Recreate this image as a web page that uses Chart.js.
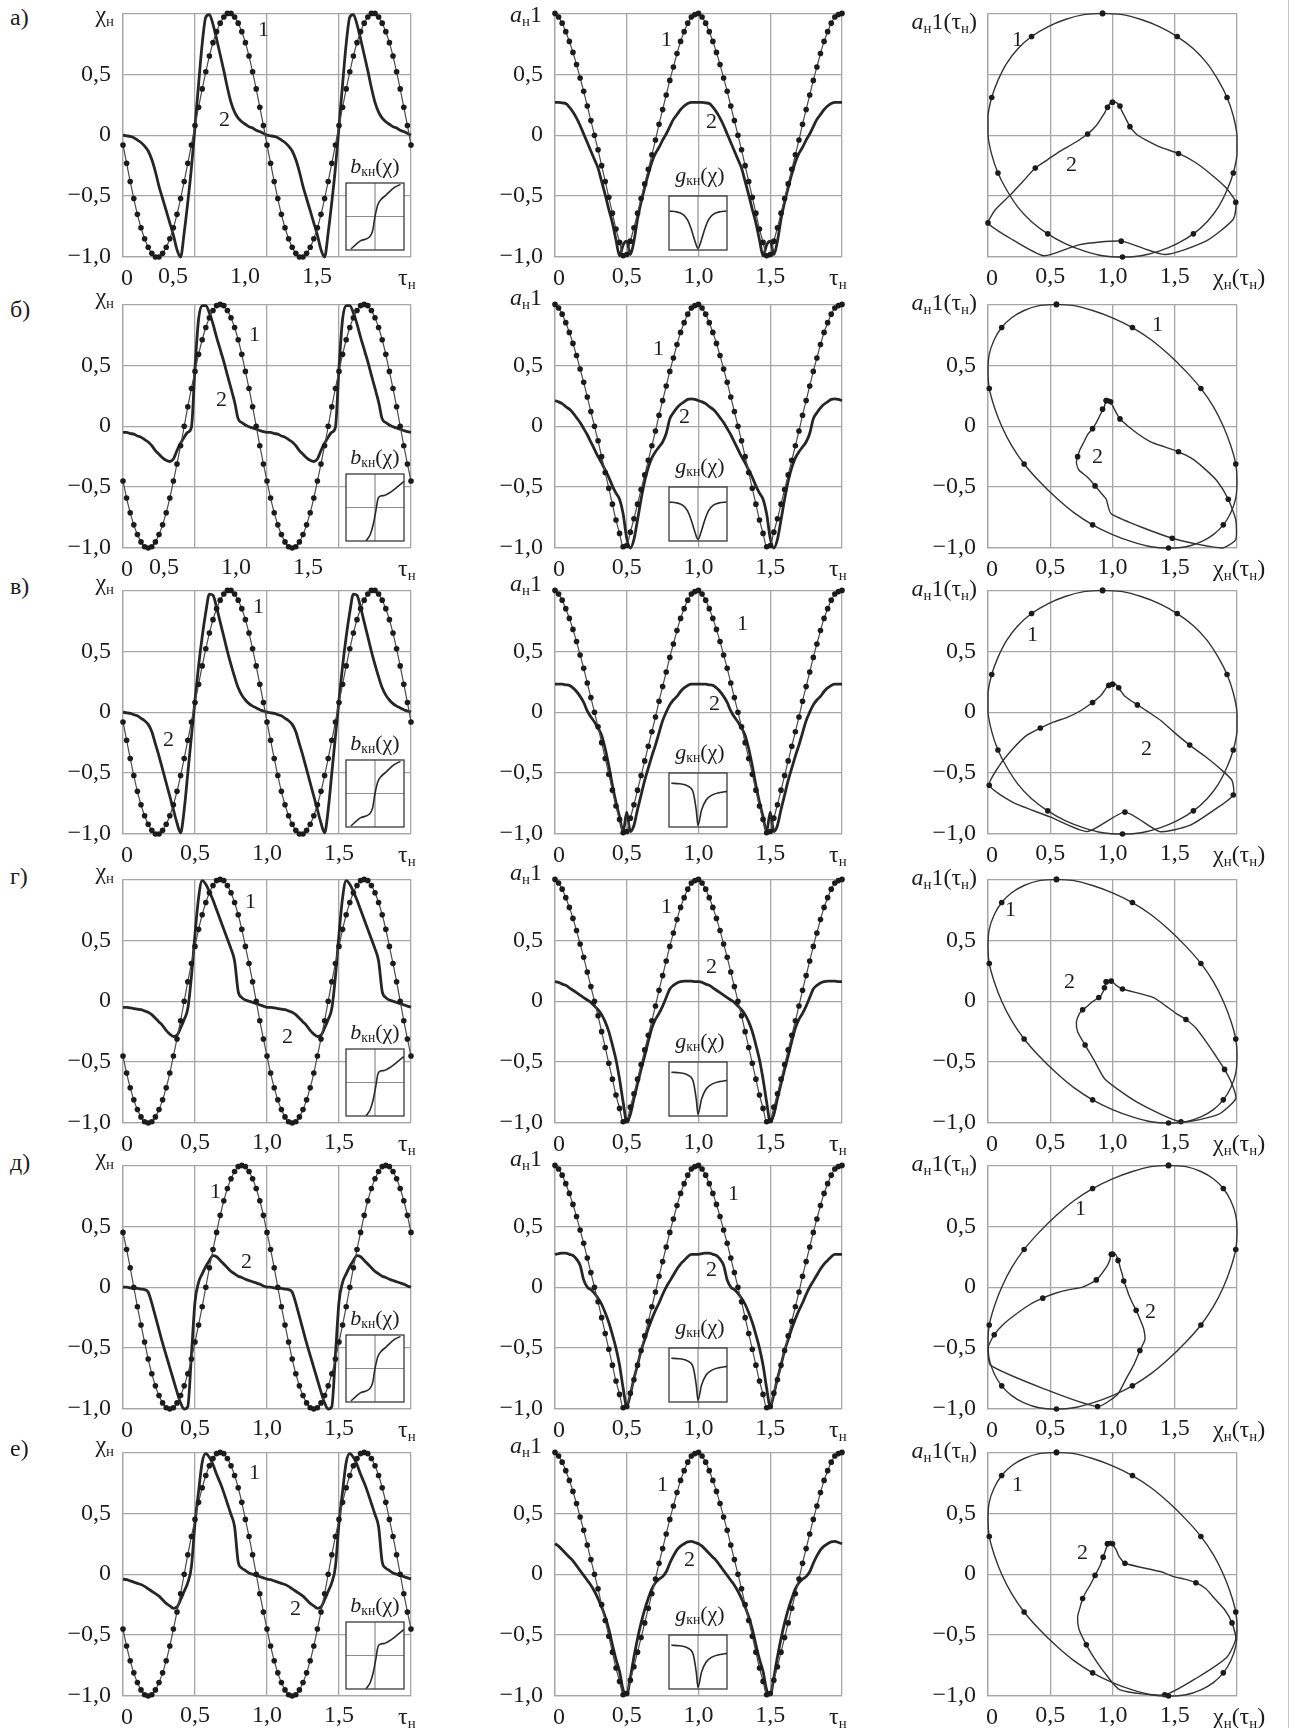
<!DOCTYPE html>
<html>
<head>
<meta charset="utf-8">
<script src="https://cdn.jsdelivr.net/npm/chart.js@4.4.1/dist/chart.umd.min.js"></script>
<style>
  body { margin: 0; background: #fff; }
  #fig { position: relative; width: 1291px; height: 1728px; overflow: hidden;
         font-family: "Liberation Serif", "Times New Roman", serif; color: #1d1d1d; }
  #fig canvas { position: absolute; }
  .t { position: absolute; line-height: 1; white-space: nowrap; }
  .t sub { font-size: 0.62em; vertical-align: baseline; position: relative; top: 0.28em; }
  #edge { position: absolute; left: 1288px; top: 0; width: 1px; height: 1728px; background: #c4c4c4; }
</style>
</head>
<body>
<div id="fig"><div id="edge"></div></div>
<script>
// one period of the normalised time, the curves repeat with period 1
const TAU = [0,0.025,0.05,0.075,0.1,0.125,0.15,0.175,0.2,0.225,0.25,0.275,0.3,0.325,0.35,0.375,0.4,0.425,0.45,0.475,
             0.5,0.525,0.55,0.575,0.6,0.625,0.65,0.675,0.7,0.725,0.75,0.775,0.8,0.825,0.85,0.875,0.9,0.925,0.95,0.975];
const PERIOD = 1;
const X_TICKS = [0, 0.5, 1, 1.5, 2];
const Y_TICKS = [-1, -0.5, 0, 0.5, 1];
const CHI_TICKS = [-1, -0.5, 0, 0.5, 1];
const LETTERS = ['а)', 'б)', 'в)', 'г)', 'д)', 'е)'];

// curve 1 (dotted) of the chi plots
const CHI1_A = [-0.08,-0.23,-0.38,-0.52,-0.65,-0.76,-0.85,-0.92,-0.97,-1,-1,-0.97,-0.92,-0.85,-0.76,-0.65,-0.52,-0.38,-0.23,-0.08,
                0.08,0.23,0.38,0.52,0.65,0.76,0.85,0.92,0.97,1,1,0.97,0.92,0.85,0.76,0.65,0.52,0.38,0.23,0.08];
const CHI1_B = [-0.45,-0.59,-0.71,-0.81,-0.89,-0.95,-0.99,-1,-0.99,-0.95,-0.89,-0.81,-0.71,-0.59,-0.45,-0.31,-0.16,0,0.16,0.31,
                0.45,0.59,0.71,0.81,0.89,0.95,0.99,1,0.99,0.95,0.89,0.81,0.71,0.59,0.45,0.31,0.16,0,-0.16,-0.31];
const CHI1_D = [0.45,0.31,0.16,0,-0.16,-0.31,-0.45,-0.59,-0.71,-0.81,-0.89,-0.95,-0.99,-1,-0.99,-0.95,-0.89,-0.81,-0.71,-0.59,
                -0.45,-0.31,-0.16,0,0.16,0.31,0.45,0.59,0.71,0.81,0.89,0.95,0.99,1,0.99,0.95,0.89,0.81,0.71,0.59];
// curve 1 (dotted) of the a plots, same in every row
const A1 = [1,0.97,0.92,0.85,0.77,0.68,0.58,0.47,0.36,0.24,0.12,0,-0.12,-0.25,-0.38,-0.51,-0.64,-0.77,-0.88,-0.99,
            -0.98,-0.87,-0.76,-0.64,-0.52,-0.4,-0.28,-0.16,-0.04,0.09,0.21,0.33,0.45,0.56,0.67,0.77,0.85,0.92,0.97,0.99];
// curve 1 as it is traced in the phase plots (a smooth loop there)
const A1_PH = [1,0.99,0.95,0.89,0.81,0.71,0.59,0.45,0.31,0.16,0,-0.16,-0.31,-0.45,-0.59,-0.71,-0.81,-0.89,-0.95,-0.99,
               -1,-0.99,-0.95,-0.89,-0.81,-0.71,-0.59,-0.45,-0.31,-0.16,0,0.16,0.31,0.45,0.59,0.71,0.81,0.89,0.95,0.99];

// curve 2 (solid) per row
const CHI2_A = [0,-0.005,-0.01,-0.02,-0.04,-0.06,-0.09,-0.13,-0.2,-0.3,-0.42,-0.52,-0.62,-0.72,-0.82,-0.94,-1,-0.8,-0.55,-0.27,
                0.07,0.42,0.75,0.97,0.99,0.91,0.79,0.66,0.53,0.39,0.27,0.19,0.14,0.11,0.09,0.07,0.06,0.04,0.03,0.015];
const A2_A = [0.27,0.27,0.265,0.26,0.23,0.19,0.14,0.08,0.01,-0.06,-0.13,-0.2,-0.27,-0.38,-0.49,-0.61,-0.72,-0.86,-0.99,-0.9,
              -0.87,-0.98,-0.87,-0.69,-0.55,-0.43,-0.32,-0.22,-0.15,-0.1,-0.04,0.01,0.07,0.13,0.17,0.21,0.24,0.26,0.27,0.27];
const CHI2_B = [-0.05,-0.05,-0.06,-0.065,-0.08,-0.09,-0.11,-0.13,-0.16,-0.2,-0.23,-0.26,-0.28,-0.29,-0.27,-0.2,-0.14,-0.09,-0.05,-0.01,
                0.48,0.88,0.99,0.99,0.93,0.84,0.73,0.63,0.53,0.42,0.31,0.2,0.06,0.03,0.01,-0.005,-0.015,-0.025,-0.035,-0.045];
const A2_B = [0.21,0.2,0.185,0.16,0.14,0.11,0.07,0.03,-0.02,-0.07,-0.13,-0.19,-0.25,-0.3,-0.36,-0.42,-0.49,-0.55,-0.6,-0.72,
              -0.92,-1,-0.93,-0.77,-0.6,-0.45,-0.34,-0.26,-0.21,-0.17,-0.13,-0.06,0.06,0.11,0.15,0.18,0.2,0.22,0.225,0.22];
const CHI2_V = [0,-0.005,-0.01,-0.02,-0.03,-0.05,-0.07,-0.1,-0.16,-0.26,-0.36,-0.47,-0.58,-0.69,-0.8,-0.91,-0.99,-0.8,-0.5,-0.2,
                0.1,0.38,0.62,0.82,0.97,0.96,0.86,0.74,0.62,0.5,0.39,0.29,0.2,0.14,0.1,0.07,0.05,0.035,0.02,0.01];
const A2_V = [0.23,0.23,0.23,0.225,0.22,0.2,0.17,0.13,0.08,0.01,-0.04,-0.08,-0.13,-0.19,-0.3,-0.44,-0.6,-0.74,-0.86,-0.98,
              -0.82,-0.98,-0.93,-0.8,-0.68,-0.56,-0.46,-0.36,-0.27,-0.17,-0.07,0,0.06,0.1,0.13,0.17,0.2,0.22,0.23,0.23];
const CHI2_G = [-0.05,-0.05,-0.055,-0.06,-0.065,-0.07,-0.08,-0.09,-0.11,-0.14,-0.17,-0.2,-0.24,-0.27,-0.29,-0.28,-0.22,-0.15,-0.06,0.2,
                0.55,0.85,0.99,0.96,0.9,0.83,0.75,0.67,0.59,0.51,0.43,0.33,0.08,0.03,0.01,0,-0.01,-0.02,-0.03,-0.04];
const A2_G = [0.16,0.155,0.14,0.13,0.11,0.09,0.07,0.05,0.03,0.01,-0.01,-0.04,-0.07,-0.11,-0.17,-0.25,-0.36,-0.48,-0.64,-0.83,
              -0.99,-0.93,-0.8,-0.68,-0.56,-0.45,-0.33,-0.22,-0.15,-0.1,-0.04,0.03,0.1,0.13,0.15,0.16,0.165,0.165,0.165,0.16];
const CHI2_D = [0,0,-0.005,-0.01,-0.01,-0.015,-0.02,-0.04,-0.13,-0.24,-0.35,-0.46,-0.56,-0.66,-0.76,-0.86,-0.95,-1,-0.98,-0.56,
                -0.12,0.04,0.11,0.17,0.22,0.26,0.25,0.22,0.19,0.16,0.13,0.11,0.09,0.08,0.065,0.055,0.045,0.035,0.025,0.01];
const A2_D = [0.27,0.275,0.28,0.28,0.27,0.26,0.23,0.18,0.06,0,-0.02,-0.05,-0.09,-0.14,-0.21,-0.29,-0.39,-0.5,-0.64,-0.83,
              -0.98,-0.88,-0.75,-0.64,-0.52,-0.43,-0.34,-0.26,-0.19,-0.13,-0.06,0,0.05,0.1,0.15,0.19,0.22,0.25,0.27,0.27];
const CHI2_E = [-0.04,-0.045,-0.055,-0.065,-0.075,-0.085,-0.1,-0.12,-0.14,-0.16,-0.18,-0.21,-0.24,-0.26,-0.28,-0.27,-0.21,-0.14,-0.07,0.06,
                0.42,0.68,0.92,0.99,0.96,0.9,0.82,0.75,0.67,0.58,0.49,0.39,0.1,0.05,0.03,0.01,0,-0.01,-0.02,-0.03];
const A2_E = [0.25,0.23,0.2,0.17,0.14,0.11,0.07,0.03,-0.01,-0.05,-0.09,-0.14,-0.2,-0.27,-0.35,-0.45,-0.58,-0.7,-0.8,-0.95,
              -0.99,-0.85,-0.68,-0.53,-0.4,-0.29,-0.2,-0.12,-0.07,-0.04,-0.02,0.02,0.09,0.15,0.2,0.23,0.25,0.265,0.27,0.26];

// small insets b_kn(chi) and g_kn(chi)
const B_SYM_X = [-0.83,-0.49,-0.2,-0.08,0,0.1,0.2,0.38,0.66,0.88];
const B_SYM_Y = [-0.97,-0.72,-0.62,-0.42,0,0.36,0.5,0.64,0.86,0.96];
const B_ASYM_X = [-0.31,-0.16,-0.06,0.03,0.09,0.14,0.32,0.54,0.78,1];
const B_ASYM_Y = [-1,-0.8,-0.5,-0.1,0.22,0.32,0.36,0.46,0.62,0.78];
const G_SYM_X = [-0.98,-0.76,-0.52,-0.36,-0.24,-0.12,0,0.12,0.24,0.36,0.52,0.76,0.98];
const G_SYM_Y = [0.44,0.42,0.32,0.12,-0.2,-0.62,-0.94,-0.62,-0.2,0.12,0.32,0.42,0.44];
const G_ASYM_X = [-0.92,-0.64,-0.36,-0.16,-0.06,0,0.12,0.28,0.48,0.76,1];
const G_ASYM_Y = [0.62,0.6,0.52,0.26,-0.38,-0.94,-0.38,0,0.18,0.28,0.32];

const ROWS = [
  { chi1: CHI1_A, chi2: CHI2_A, a2: A2_A, b: [B_SYM_X, B_SYM_Y],   g: [G_SYM_X, G_SYM_Y] },
  { chi1: CHI1_B, chi2: CHI2_B, a2: A2_B, b: [B_ASYM_X, B_ASYM_Y], g: [G_SYM_X, G_SYM_Y] },
  { chi1: CHI1_A, chi2: CHI2_V, a2: A2_V, b: [B_SYM_X, B_SYM_Y],   g: [G_ASYM_X, G_ASYM_Y] },
  { chi1: CHI1_B, chi2: CHI2_G, a2: A2_G, b: [B_ASYM_X, B_ASYM_Y], g: [G_ASYM_X, G_ASYM_Y] },
  { chi1: CHI1_D, chi2: CHI2_D, a2: A2_D, b: [B_SYM_X, B_SYM_Y],   g: [G_ASYM_X, G_ASYM_Y] },
  { chi1: CHI1_B, chi2: CHI2_E, a2: A2_E, b: [B_ASYM_X, B_ASYM_Y], g: [G_ASYM_X, G_ASYM_Y] }
];

// page layout
const ROW_TOP = [11, 302, 588, 877, 1163, 1450];
const PLOT_H = 246;
const COLS = [{ x: 123, w: 288 }, { x: 555, w: 287 }, { x: 988, w: 249 }];
const COL1_XOFF = [-22, -31, 0, 0, 0, 0];
const LETTER_DY = [14, 15, 6, 7, 7, 6];
const NUM_POS = [
  [[264,28],[225,118],[667,38],[712,120],[1018,38],[1072,163]],
  [[255,333],[222,398],[659,347],[685,415],[1158,323],[1098,455]],
  [[259,605],[169,738],[743,622],[715,702],[1033,633],[1147,747]],
  [[251,900],[288,1035],[667,905],[712,965],[1011,908],[1070,980]],
  [[216,1190],[247,1260],[734,1192],[712,1268],[1081,1207],[1151,1310]],
  [[255,1471],[296,1607],[663,1483],[690,1558],[1018,1483],[1083,1551]]
];

const INK = '#1d1d1d';
const GRID = '#a6a6a6';
const FONT = '"Liberation Serif", "Times New Roman", serif';
const fig = document.getElementById('fig');

function fmt(v) {
  if (Math.abs(v) < 1e-9) return '0';
  return (v < 0 ? '\u2212' : '') + Math.abs(v).toFixed(1).replace('.', ',');
}

function series(vals, periods) {
  const pts = [];
  for (let p = 0; p < periods; p++) {
    vals.forEach((v, i) => pts.push({ x: TAU[i] + p * PERIOD, y: v }));
  }
  pts.push({ x: periods * PERIOD, y: vals[0] });
  return pts;
}

function loop(chi, a) {
  const pts = chi.map((c, i) => ({ x: c, y: a[i] }));
  pts.push({ x: chi[0], y: a[0] });
  return pts;
}

const framePlugin = {
  id: 'frame',
  beforeDatasetsDraw(chart, args, o) {
    if (!o || !o.cross) return;
    const { ctx, chartArea: a } = chart;
    ctx.save();
    ctx.fillStyle = '#fff';
    ctx.fillRect(a.left, a.top, a.width, a.height);
    ctx.strokeStyle = '#8c8c8c';
    ctx.lineWidth = 1.2;
    const cx = (a.left + a.right) / 2, cy = (a.top + a.bottom) / 2;
    ctx.beginPath();
    ctx.moveTo(cx, a.top); ctx.lineTo(cx, a.bottom);
    if (o.cross === 'both') { ctx.moveTo(a.left, cy); ctx.lineTo(a.right, cy); }
    ctx.stroke();
    ctx.restore();
  },
  afterDraw(chart, args, o) {
    if (!o || !o.color) return;
    const { ctx, chartArea: a } = chart;
    ctx.save();
    ctx.strokeStyle = o.color;
    ctx.lineWidth = o.width;
    ctx.strokeRect(a.left, a.top, a.width, a.height);
    ctx.restore();
  }
};

function addCanvas(x, y, w, h) {
  const cv = document.createElement('canvas');
  cv.width = w; cv.height = h;
  cv.style.left = x + 'px'; cv.style.top = y + 'px';
  cv.style.width = w + 'px'; cv.style.height = h + 'px';
  fig.appendChild(cv);
  return cv;
}

function mainChart(px, py, pw, ph, datasets, opt) {
  const L = 80, T = 24, R = 24, B = 52;
  const cv = addCanvas(px - L, py - T, pw + L + R, ph + T + B);
  return new Chart(cv, {
    type: 'scatter',
    data: { datasets },
    options: {
      responsive: false,
      animation: false,
      devicePixelRatio: 1,
      layout: { padding: { left: 0, top: T, right: R, bottom: 0 } },
      plugins: { legend: { display: false }, tooltip: { enabled: false } },
      scales: {
        x: {
          type: 'linear', min: opt.ticks[0], max: opt.ticks[opt.ticks.length - 1],
          afterBuildTicks: s => { s.ticks = opt.ticks.map(v => ({ value: v })); },
          afterFit: s => { s.height = B; },
          grid: { color: GRID, lineWidth: 1.3, drawTicks: false },
          border: { color: GRID, width: 1.3 },
          ticks: {
            color: INK, font: { family: FONT, size: 24 }, padding: 5,
            labelOffset: opt.xOff, maxRotation: 0, autoSkip: false,
            callback: v => (v === opt.ticks[0] || v === opt.ticks[opt.ticks.length - 1]) ? '' : fmt(v + opt.shift)
          }
        },
        y: {
          type: 'linear', min: -1, max: 1,
          afterBuildTicks: s => { s.ticks = Y_TICKS.map(v => ({ value: v })); },
          afterFit: s => { s.width = L; },
          grid: { color: GRID, lineWidth: 1.3, drawTicks: false },
          border: { color: GRID, width: 1.3 },
          ticks: {
            color: INK, font: { family: FONT, size: 24 }, padding: 12,
            callback: v => (opt.noY || v === 1) ? '' : fmt(v)
          }
        }
      }
    }
  });
}

function inset(x, y, w, h, xs, ys, cross) {
  const cv = addCanvas(x - 2, y - 2, w + 4, h + 4);
  return new Chart(cv, {
    type: 'scatter',
    data: { datasets: [{
      data: xs.map((v, i) => ({ x: v, y: ys[i] })),
      showLine: true, borderColor: '#2a2a2a', borderWidth: 1.6,
      pointRadius: 0, cubicInterpolationMode: 'monotone'
    }] },
    options: {
      responsive: false, animation: false, devicePixelRatio: 1,
      layout: { padding: 2 },
      plugins: { legend: { display: false }, tooltip: { enabled: false },
                 frame: { color: '#3a3a3a', width: 1.3, cross } },
      scales: { x: { display: false, min: -1, max: 1 }, y: { display: false, min: -1, max: 1 } }
    },
    plugins: [framePlugin]
  });
}

function dotted(vals) {
  return { data: series(vals, 2), showLine: true, borderColor: '#4a4a4a', borderWidth: 1.2,
           pointRadius: 2.8, pointBackgroundColor: '#1b1b1b', pointBorderWidth: 0,
           cubicInterpolationMode: 'monotone', clip: 6 };
}
function solid(vals) {
  return { data: series(vals, 2), showLine: true, borderColor: '#262626', borderWidth: 2.8,
           pointRadius: 0, cubicInterpolationMode: 'monotone', clip: 6 };
}
function phase(chi, a) {
  return { data: loop(chi, a), showLine: true, borderColor: '#333', borderWidth: 1.4, tension: 0.2,
           pointRadius: c => c.dataIndex % 4 === 0 ? 2.8 : 0, pointBackgroundColor: '#1b1b1b',
           pointBorderWidth: 0, clip: 6 };
}

function text(html, x, baseline, size, align) {
  const d = document.createElement('div');
  d.className = 't';
  d.innerHTML = html;
  d.style.fontSize = size + 'px';
  d.style.top = (baseline - 0.84 * size) + 'px';
  if (align === 'right') d.style.right = (1291 - x) + 'px';
  else if (align === 'center') { d.style.left = x + 'px'; d.style.transform = 'translateX(-50%)'; }
  else d.style.left = x + 'px';
  fig.appendChild(d);
}

ROWS.forEach((row, r) => {
  const top = ROW_TOP[r], bottom = top + PLOT_H;
  const [c1, c2, c3] = COLS;

  mainChart(c1.x, top, c1.w, PLOT_H, [dotted(row.chi1), solid(row.chi2)],
            { ticks: X_TICKS, shift: 0, xOff: COL1_XOFF[r] });
  mainChart(c2.x, top, c2.w, PLOT_H, [dotted(A1), solid(row.a2)],
            { ticks: X_TICKS, shift: 0, xOff: 0 });
  mainChart(c3.x, top, c3.w, PLOT_H, [phase(row.chi1, A1_PH), phase(row.chi2, row.a2)],
            { ticks: CHI_TICKS, shift: 1, xOff: 0, noY: r === 0 });

  // insets
  const by = top + 172, gy = top + 185;
  inset(346, by, 58, 67, row.b[0], row.b[1], 'both');
  inset(669, gy, 58, 54, row.g[0], row.g[1], 'v');
  text('<i>b</i><sub>кн</sub>(χ)', 375, by - 10, 22, 'center');
  text('<i>g</i><sub>кн</sub>(χ)', 700, gy - 14, 22, 'center');

  // row letter and axis names
  text(LETTERS[r], 10, top + LETTER_DY[r], 24, 'left');
  text('χ<sub>н</sub>', c1.x - 9, top + (r === 0 ? 11 : 2), 24, 'right');
  text('<i>a</i><sub>н</sub>1', c2.x - 13, top + (r === 0 ? 11 : 3), 24, 'right');
  text('<i>a</i><sub>н</sub>1(τ<sub>н</sub>)', c3.x - 11, top + (r === 0 ? 18 : 8), 24, 'right');

  [c1, c2, c3].forEach((c, i) => {
    text('0', c.x + 4, bottom + 28, 24, 'center');
    if (i < 2) text('τ<sub>н</sub>', c.x + c.w - 13, bottom + 28, 24, 'left');
    else text('χ<sub>н</sub>(τ<sub>н</sub>)', c.x + c.w - 24, bottom + 28, 24, 'left');
  });

  NUM_POS[r].forEach((p, i) => {
    text(i % 2 === 0 ? '1' : '2', p[0] - 6, p[1] + 8, 22, 'left');
  });
});
</script>
</body>
</html>
